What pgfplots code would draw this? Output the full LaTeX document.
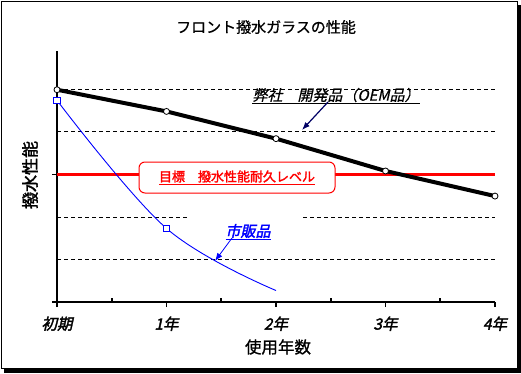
\documentclass[border=0pt]{standalone}
\usepackage{fontspec}
\setmainfont{Noto Sans CJK JP}
\newfontfamily\jp{Noto Sans CJK JP}
\newfontfamily\jpm[FakeBold=0.8]{Noto Sans CJK JP}
\newfontfamily\jpit[FakeSlant=0.22,FakeBold=0.6]{Noto Sans CJK JP}
\newfontfamily\jpbi[FakeSlant=0.22,FakeBold=2]{Noto Sans CJK JP}
\newfontfamily\jpb[FakeBold=2]{Noto Sans CJK JP}
\usepackage{pgfplots}
\pgfplotsset{compat=1.18}
\usetikzlibrary{arrows.meta}
\definecolor{navyarrow}{RGB}{0,0,100}
\begin{document}
\begin{tikzpicture}
\useasboundingbox (0pt,0pt) rectangle (521pt,373pt);
\draw[line width=1pt] (1.5pt,4.5pt) rectangle (517pt,371.5pt);
\fill (517pt,0.5pt) rectangle (520.5pt,368pt);
\fill (4pt,0.5pt) rectangle (520.5pt,4pt);
\begin{axis}[
 at={(57pt,71pt)}, anchor=south west, scale only axis, width=438pt, height=251pt,
 xmin=0, xmax=4, ymin=0, ymax=5.9, clip=false,
 axis x line=bottom, axis y line=left,
 x axis line style={-, line width=2.6pt},
 y axis line style={-, line width=2.2pt},
 xtick={0,1,2,3,4}, xticklabels={初期,1年,2年,3年,4年},
 ytick={0,3}, yticklabels={},
 tick align=outside, major tick length=5pt,
 every tick/.style={black, line width=1.6pt},
 extra x ticks={0.5,1.5,2.5,3.5}, extra x tick labels={},
 extra x tick style={tick align=inside, major tick length=4pt},
 xticklabel style={font=\jpbi\fontsize{15.5}{15.5}\selectfont, yshift=-6pt},
]
\draw[line width=0.8pt, dash pattern=on 4pt off 3pt] (axis cs:0,5) -- (axis cs:4,5);
\draw[line width=0.8pt, dash pattern=on 4pt off 3pt] (axis cs:0,4) -- (axis cs:4,4);
\draw[line width=0.8pt, dash pattern=on 4pt off 3pt] (axis cs:0,2) -- (axis cs:1.2,2);
\draw[line width=0.8pt, dash pattern=on 4pt off 3pt] (axis cs:2.25,2) -- (axis cs:4,2);
\draw[line width=0.8pt, dash pattern=on 4pt off 3pt] (axis cs:0,1) -- (axis cs:4,1);
\addplot[red, line width=3pt, no marks] coordinates {(0,3) (4,3)};
\addplot[blue, line width=0.9pt, smooth, tension=0.6, mark=square*, mark indices={1,2}, mark size=3.2pt,
  mark options={solid, fill=white, draw=blue, line width=0.8pt}]
  coordinates {(0,4.74) (1,1.73) (2,0.27)};
\addplot[black, line width=4pt, mark=*, mark size=3pt,
  mark options={solid, fill=white, draw=black, line width=0.8pt}]
  coordinates {(0,4.99) (1,4.48) (2,3.84) (3,3.08) (4,2.49)};
\end{axis}
\node[font=\jpm\fontsize{15}{15}\selectfont] at (266pt,346pt) {フロント撥水ガラスの性能};
\node[rotate=90, font=\jpb\fontsize{17}{17}\selectfont] at (30pt,198pt) {撥水性能};
\node[font=\jpm\fontsize{16.5}{16.5}\selectfont] at (278pt,26pt) {使用年数};
\node[draw=red, fill=white, rounded corners=6pt, line width=1pt, minimum width=196pt, minimum height=31pt, text=red, font=\jpb\fontsize{13}{13}\selectfont] at (237pt,195.5pt) {\underline{目標　撥水性能耐久レベル}};
\node[font=\jpit\fontsize{15}{15}\selectfont] at (336pt,277pt) {\underline{弊社　開発品（OEM品）}};
\draw[navyarrow, line width=1.2pt, -{Latex[length=8pt,width=6pt]}] (328pt,271pt) -- (302pt,243pt);
\node[text=blue, font=\jpbi\fontsize{15}{15}\selectfont] at (248pt,141pt) {\underline{市販品}};
\draw[blue, line width=0.8pt, -{Latex[length=8pt,width=6pt]}] (232pt,135pt) -- (215pt,112pt);
\end{tikzpicture}
\end{document}
